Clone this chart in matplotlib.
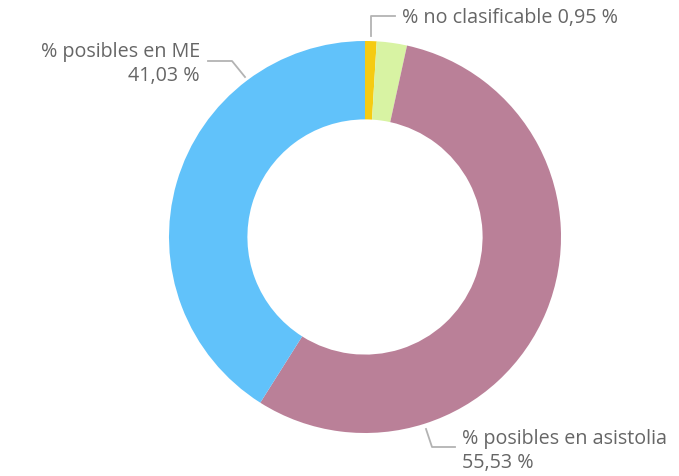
import matplotlib
matplotlib.use("Agg")
import matplotlib.pyplot as plt

categories = ["% no clasificable", "% otros", "% posibles en asistolia", "% posibles en ME"]
values = [0.95, 2.49, 55.53, 41.03]
colors = ["#F5CB13", "#D8F3A3", "#BA8098", "#61C2FA"]
label_text = {
    0: "% no clasificable 0,95 %",
    2: "% posibles en asistolia\n55,53 %",
    3: "% posibles en ME\n41,03 %",
}

W, H = 679, 476
fig = plt.figure(figsize=(W / 100, H / 100), dpi=100)
ax = fig.add_axes([0, 0, 1, 1])

cx, cy, R = 365, 237, 196
wedges, _ = ax.pie(values, colors=colors, startangle=-90, counterclock=True,
                   radius=R, center=(cx, cy),
                   wedgeprops=dict(width=R * 0.4, linewidth=0), frame=True)
ax.set_xlim(0, W)
ax.set_ylim(H, 0)
ax.set_aspect("equal")
ax.axis("off")

lc = "#B3B3B3"
tc = "#666666"
fam = ["Open Sans", "DejaVu Sans"]
fs = 14.2

# leader lines (layout)
ax.plot([371, 371, 395], [36, 16, 16], color=lc, lw=1.3)
ax.plot([208, 232, 245], [61, 61, 77], color=lc, lw=1.3)
ax.plot([426, 432, 455], [429, 447, 447], color=lc, lw=1.3)

ax.text(402, 18, label_text[0], ha="left", va="center", color=tc, fontsize=fs, family=fam)
ax.text(200, 64, label_text[3], ha="right", va="center", color=tc, fontsize=fs,
        family=fam, multialignment="right", linespacing=1.32)
ax.text(462, 451, label_text[2], ha="left", va="center", color=tc, fontsize=fs,
        family=fam, multialignment="left", linespacing=1.32)

fig.savefig("out.png", dpi=100)
